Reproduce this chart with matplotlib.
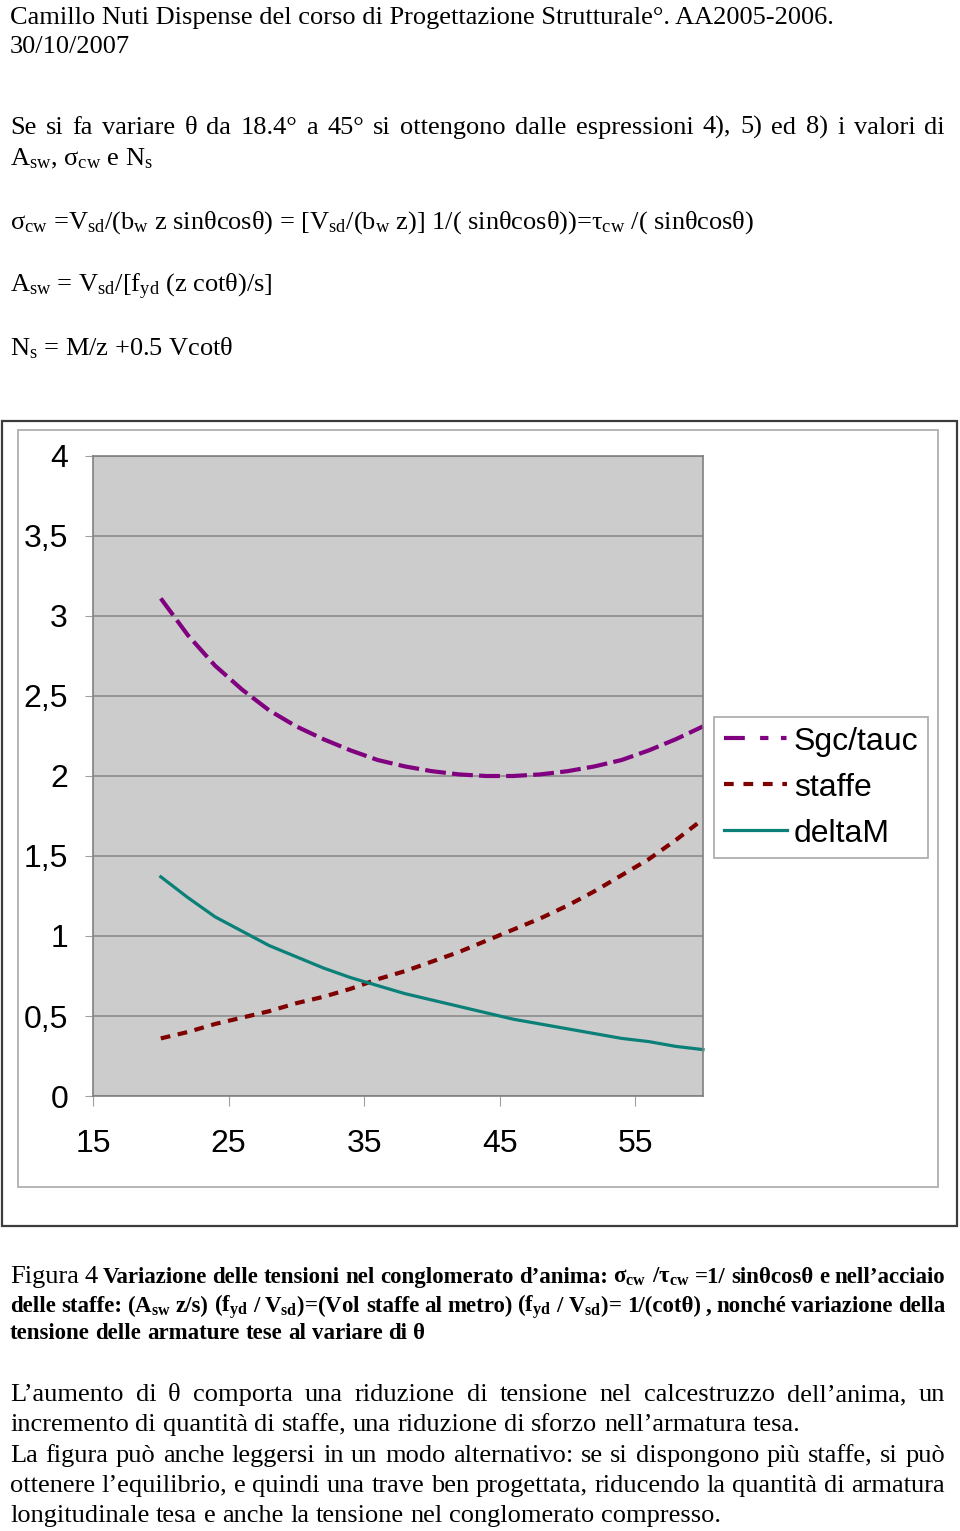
import matplotlib
matplotlib.use('Agg')
import matplotlib.pyplot as plt
from matplotlib.patches import Rectangle
from matplotlib.lines import Line2D

# values (theta in degrees)
theta = [20, 22, 24, 26, 28, 30, 32, 34, 36, 38, 40, 42, 44, 46, 48, 50, 52, 54, 56, 58, 60]
sgc_tauc = [3.11, 2.88, 2.69, 2.54, 2.41, 2.31, 2.23, 2.16, 2.10, 2.06, 2.03, 2.01, 2.00,
            2.00, 2.01, 2.03, 2.06, 2.10, 2.16, 2.23, 2.31]
staffe = [0.36, 0.40, 0.45, 0.49, 0.53, 0.58, 0.62, 0.67, 0.73, 0.78, 0.84, 0.90, 0.97,
          1.04, 1.11, 1.19, 1.28, 1.38, 1.48, 1.60, 1.73]
delta_m = [1.37, 1.24, 1.12, 1.03, 0.94, 0.87, 0.80, 0.74, 0.69, 0.64, 0.60, 0.56, 0.52,
           0.48, 0.45, 0.42, 0.39, 0.36, 0.34, 0.31, 0.29]
series_names = ['Sgc/tauc', 'staffe', 'deltaM']
x_ticks = [15, 25, 35, 45, 55]
y_ticks = [0, 0.5, 1, 1.5, 2, 2.5, 3, 3.5, 4]
y_tick_labels = ['0', '0,5', '1', '1,5', '2', '2,5', '3', '3,5', '4']

plt.rcParams['font.family'] = 'Liberation Serif'
plt.rcParams['mathtext.fontset'] = 'custom'
plt.rcParams['mathtext.rm'] = 'Liberation Serif'
plt.rcParams['mathtext.it'] = 'Liberation Serif:italic'
plt.rcParams['mathtext.bf'] = 'Liberation Serif:bold'
plt.rcParams['mathtext.default'] = 'rm'
plt.rcParams['lines.scale_dashes'] = False

W, H = 960, 1531
fig = plt.figure(figsize=(W / 100, H / 100), dpi=100)
renderer = fig.canvas.get_renderer()


def fx(x):
    return x / W


def fy(y):
    return 1 - y / H


def put_line(words, y, size, x0=10, x1=945, fill=True):
    # words: list of (text, weight) or (text, weight, size)
    texts = [fig.text(0, fy(y), w[0], fontsize=(w[2] if len(w) > 2 else size),
                      fontweight=w[1], va='baseline') for w in words]
    widths = [t.get_window_extent(renderer).width for t in texts]
    if fill and len(texts) > 1:
        gap = (x1 - x0 - sum(widths)) / (len(texts) - 1)
    else:
        gap = 0.25 * size * 100 / 72
    x = x0
    for t, w in zip(texts, widths):
        t.set_x(fx(x))
        x += w + gap


def words_of(s, wt='normal'):
    return [(w, wt) for w in s.split()]


# page text above the chart
fig.text(fx(10), fy(24), 'Camillo Nuti Dispense del corso di Progettazione Strutturale°. AA2005-2006.',
         fontsize=19, va='baseline')
fig.text(fx(10), fy(53), '30/10/2007', fontsize=19, va='baseline')
put_line(words_of('Se si fa variare θ da 18.4° a 45° si ottengono dalle espressioni 4), 5) ed 8) i valori di'),
         134, 19)
fig.text(fx(10), fy(165), r'A$_{sw}$, σ$_{cw}$ e N$_{s}$', fontsize=19, va='baseline')
fig.text(fx(10), fy(229),
         r'σ$_{cw}$ =V$_{sd}$/(b$_{w}$ z sinθcosθ) = [V$_{sd}$/(b$_{w}$ z)] 1/( sinθcosθ))=τ$_{cw}$ /( sinθcosθ)',
         fontsize=19, va='baseline')
fig.text(fx(10), fy(292), r'A$_{sw}$ = V$_{sd}$/[f$_{yd}$ (z cotθ)/s]', fontsize=19, va='baseline')
fig.text(fx(10), fy(355), r'N$_{s}$ = M/z +0.5 Vcotθ', fontsize=19, va='baseline')

# chart frames
fig.add_artist(Rectangle((fx(2), fy(1226)), 955 / W, (1226 - 421) / H, fill=False,
                         ec='#3c3c3c', lw=1.6, transform=fig.transFigure))
fig.add_artist(Rectangle((fx(18), fy(1187)), 920 / W, (1187 - 430) / H, fill=False,
                         ec='#b4b4b4', lw=1.4, transform=fig.transFigure))

ax = fig.add_axes([fx(93), fy(1096), 610 / W, 640 / H])
ax.set_facecolor('#cccccc')
ax.set_xlim(15, 60)
ax.set_ylim(0, 4)
ax.set_yticks(y_ticks)
ax.set_yticklabels(y_tick_labels)
ax.set_xticks(x_ticks)
ax.grid(axis='y', color='#8c8c8c', lw=1.2)
ax.set_axisbelow(True)
for s in ax.spines.values():
    s.set_color('#808080')
    s.set_linewidth(1.2)
ax.tick_params(axis='y', length=6, color='#a0a0a0', pad=12, labelsize=23)
ax.tick_params(axis='x', length=7, color='#a0a0a0', pad=17, labelsize=23)
for lab in ax.get_xticklabels() + ax.get_yticklabels():
    lab.set_fontfamily('Liberation Sans')

ax.plot(theta, sgc_tauc, color='#800080', lw=3, dashes=(15, 4.5), clip_on=False)
ax.plot(theta, staffe, color='#800000', lw=3, dashes=(7, 5.5), clip_on=False)
ax.plot(theta, delta_m, color='#0a8078', lw=2.3, clip_on=False)

handles = [Line2D([], [], color='#800080', lw=3, dashes=(15, 11, 6, 9, 4, 9)),
           Line2D([], [], color='#800000', lw=3, dashes=(7, 7)),
           Line2D([], [], color='#0a8078', lw=2.3)]
leg = ax.legend(handles, series_names, loc='upper left', bbox_to_anchor=(fx(714), fy(717)),
                bbox_transform=fig.transFigure, borderaxespad=0, fancybox=False,
                edgecolor='#a8a8a8', framealpha=1, handlelength=2.0, handletextpad=0.2,
                labelspacing=0.5, borderpad=0.3,
                prop={'family': 'Liberation Sans', 'size': 23})
leg.get_frame().set_linewidth(1.2)

# caption
put_line([('Figura', 'normal', 19), ('4', 'normal', 19)] +
         words_of(r'Variazione delle tensioni nel conglomerato d’anima: σ$_{\mathbf{cw}}$ /τ$_{\mathbf{cw}}$ =1/ sinθcosθ e nell’acciaio', 'bold'),
         1283, 16.5)
put_line(words_of(r'delle staffe: (A$_{\mathbf{sw}}$ z/s) (f$_{\mathbf{yd}}$ / V$_{\mathbf{sd}}$)=(Vol staffe al metro) (f$_{\mathbf{yd}}$ / V$_{\mathbf{sd}}$)= 1/(cotθ) , nonché variazione della', 'bold'),
         1312, 16.5)
put_line(words_of('tensione delle armature tese al variare di θ', 'bold'), 1339, 16.5, fill=False)

# paragraph below
put_line(words_of('L’aumento di  θ comporta una riduzione di tensione nel calcestruzzo dell’anima, un'), 1401, 19)
put_line(words_of('incremento di quantità di staffe, una riduzione di sforzo nell’armatura tesa.'), 1431, 19, fill=False)
put_line(words_of('La figura può anche leggersi in un modo alternativo: se si dispongono più staffe, si può'), 1462, 19)
put_line(words_of('ottenere l’equilibrio, e quindi una trave ben progettata, riducendo la quantità di armatura'), 1492, 19)
put_line(words_of('longitudinale tesa e anche la tensione nel conglomerato compresso.'), 1522, 19, fill=False)

fig.savefig('out.png', dpi=100)
